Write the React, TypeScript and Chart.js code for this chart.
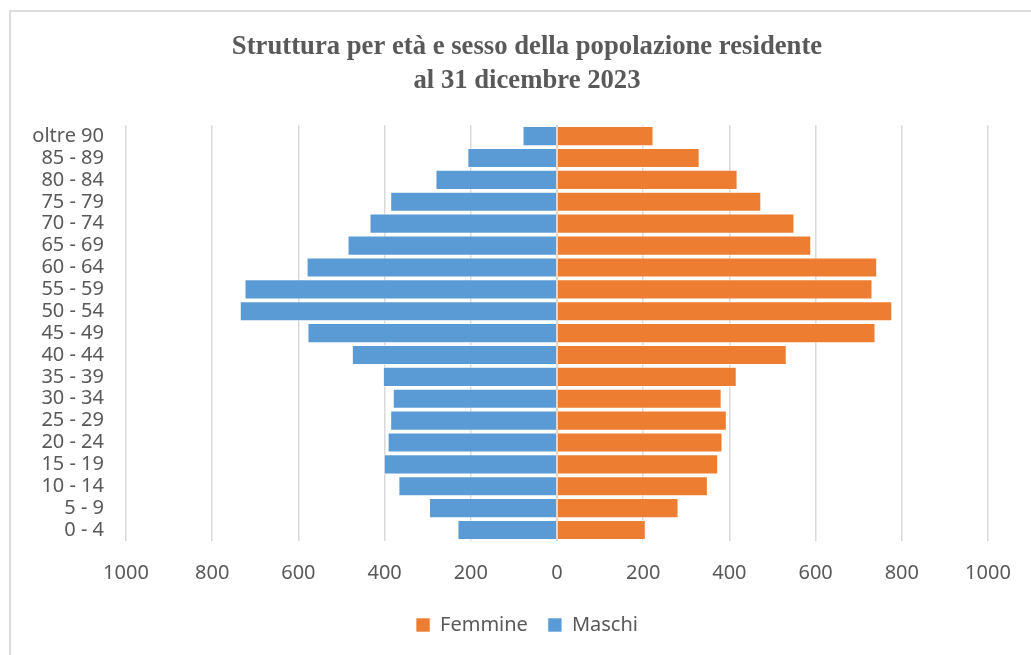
import React, { useEffect, useRef } from "react";
import { Chart, registerables } from "chart.js";

Chart.register(...registerables);

const ageGroups = [
  "0 - 4", "5 - 9", "10 - 14", "15 - 19", "20 - 24", "25 - 29", "30 - 34",
  "35 - 39", "40 - 44", "45 - 49", "50 - 54", "55 - 59", "60 - 64", "65 - 69",
  "70 - 74", "75 - 79", "80 - 84", "85 - 89", "oltre 90",
];
const maschi = [231, 297, 368, 402, 393, 387, 381, 404, 476, 579, 736, 725, 581, 486, 435, 387, 282, 208, 80];
const femmine = [206, 282, 350, 374, 384, 394, 382, 417, 533, 739, 778, 732, 743, 590, 551, 474, 419, 331, 224];

const titleLines = ["Struttura per età e sesso della popolazione residente", "al 31 dicembre 2023"];
const xMin = -1000;
const xMax = 1000;
const xStep = 200;

const TEXT = "#595959";
const GRID = "#d9d9d9";

const zeroLinePlugin = {
  id: "zeroLine",
  afterDatasetsDraw(chart: any) {
    const x = chart.scales.x;
    const area = chart.chartArea;
    const px = x.getPixelForValue(0);
    const ctx = chart.ctx;
    ctx.save();
    ctx.strokeStyle = GRID;
    ctx.lineWidth = 2;
    ctx.beginPath();
    ctx.moveTo(px, area.top);
    ctx.lineTo(px, area.bottom);
    ctx.stroke();
    ctx.restore();
  },
};

const CANVAS_W = 1060;
const CANVAS_H = 655;

export default function App() {
  const ref = useRef<HTMLCanvasElement | null>(null);

  useEffect(() => {
    if (!ref.current) return;
    const chart = new Chart(ref.current, {
      type: "bar",
      data: {
        labels: ageGroups,
        datasets: [
          {
            label: "Femmine",
            data: femmine,
            backgroundColor: "#ED7D31",
            borderColor: "rgba(255,255,255,0.6)",
            borderWidth: 1,
            barPercentage: 0.92,
            categoryPercentage: 1,
          },
          {
            label: "Maschi",
            data: maschi.map((v) => -v),
            backgroundColor: "#5B9BD5",
            borderColor: "rgba(255,255,255,0.6)",
            borderWidth: 1,
            barPercentage: 0.92,
            categoryPercentage: 1,
          },
        ],
      },
      options: {
        indexAxis: "y",
        responsive: false,
        animation: false,
        layout: { padding: { left: 6, right: 12, top: 31, bottom: 10 } },
        plugins: {
          title: {
            display: true,
            text: titleLines,
            color: TEXT,
            font: { family: "'Liberation Serif', 'Times New Roman', serif", size: 26.7, weight: "bold", lineHeight: 1.24 },
            padding: { top: 0, bottom: 28 },
          },
          legend: {
            position: "bottom",
            labels: {
              color: TEXT,
              font: { family: "'Noto Sans', sans-serif", size: 20 },
              boxWidth: 14,
              boxHeight: 14,
              padding: 20,
            },
          },
          tooltip: { enabled: false },
        },
        scales: {
          x: {
            stacked: true,
            min: xMin,
            max: xMax,
            afterFit: (s: any) => {
              s.height = 54;
            },
            ticks: {
              stepSize: xStep,
              color: TEXT,
              font: { family: "'Noto Sans', sans-serif", size: 20 },
              padding: 20,
              callback: (v: any) => String(Math.abs(Number(v))),
            },
            grid: { color: GRID, lineWidth: 1.5, drawTicks: false },
            border: { display: false },
          },
          y: {
            stacked: true,
            reverse: true,
            afterFit: (s: any) => {
              s.width = 120;
            },
            ticks: {
              color: TEXT,
              font: { family: "'Noto Sans', sans-serif", size: 20 },
              padding: 22,
              autoSkip: false,
            },
            grid: { display: false, drawTicks: false },
            border: { display: false },
          },
          yRight: {
            type: "category",
            position: "right",
            display: true,
            afterFit: (s: any) => {
              s.width = 60;
            },
            ticks: { display: false },
            grid: { display: false, drawTicks: false },
            border: { display: false },
          },
        },
      },
      plugins: [zeroLinePlugin],
    });
    return () => chart.destroy();
  }, []);

  return (
    <div style={{ position: "fixed", left: 0, top: 0, width: 1031, height: 655, overflow: "hidden", background: "#fff" }}>
      <div
        style={{
          position: "absolute",
          left: 9,
          top: 10,
          width: 1040,
          height: 700,
          border: "2px solid #dcdcdc",
          boxSizing: "border-box",
        }}
      />
      <canvas ref={ref} width={CANVAS_W} height={CANVAS_H} style={{ position: "absolute", left: 0, top: 0 }} />
    </div>
  );
}
